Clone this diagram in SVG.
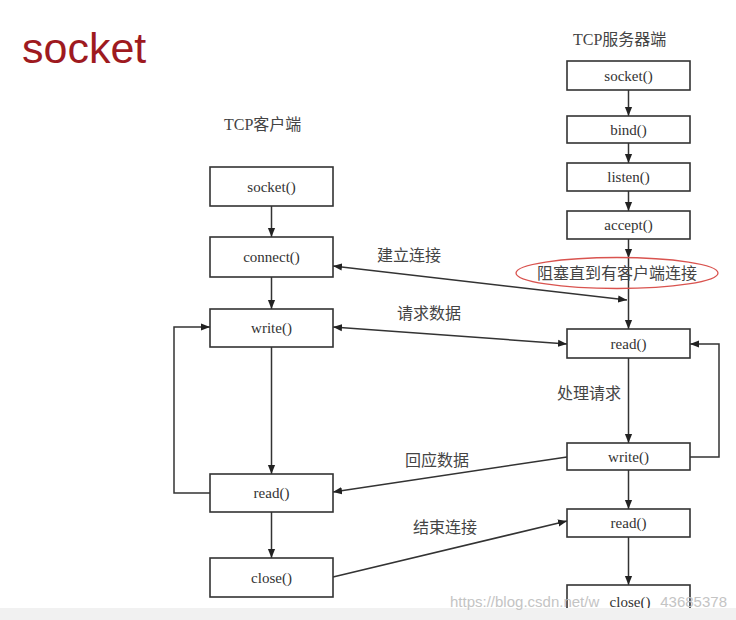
<svg xmlns="http://www.w3.org/2000/svg" width="736" height="620" viewBox="0 0 736 620">
<defs>
<marker id="ah" viewBox="0 0 10 10" refX="10" refY="5" markerWidth="9" markerHeight="9" markerUnits="userSpaceOnUse" orient="auto-start-reverse"><path d="M0,1 L10,5 L0,9 z" fill="#222"/></marker>
<style>
.box{fill:#fff;stroke:#333;stroke-width:1.6}
.bt{font-family:"Liberation Serif","Noto Sans CJK SC",serif;font-size:15px;fill:#333;text-anchor:middle}
.lbl{font-family:"Noto Sans CJK SC","Liberation Sans",sans-serif;font-size:16px;fill:#444}
.hd{font-family:"Liberation Serif","Noto Sans CJK SC",serif;font-size:16px;fill:#444}
.c{fill:none;stroke:#333;stroke-width:1.5}
.a{marker-end:url(#ah)}
.b{marker-start:url(#ah);marker-end:url(#ah)}
.wm{font-family:"Liberation Sans",Arial,sans-serif;font-size:15px;fill:#c4c4c4}
</style>
</defs>
<rect width="736" height="620" fill="#fff"/>
<text x="22" y="63" font-family="Liberation Sans, Arial, sans-serif" font-size="43" fill="#9e1a1f">socket</text>
<text class="hd" x="573" y="45">TCP服务器端</text>
<text class="hd" x="224" y="130">TCP客户端</text>

<g id="connectors">
<line class="c a" x1="271.5" y1="206" x2="271.5" y2="237"/>
<line class="c a" x1="271.5" y1="277" x2="271.5" y2="309"/>
<line class="c a" x1="271.5" y1="347" x2="271.5" y2="474"/>
<line class="c a" x1="271.5" y1="512" x2="271.5" y2="558"/>
<polyline class="c a" points="210,493 174,493 174,327 210,327"/>
<line class="c a" x1="628.5" y1="90" x2="628.5" y2="116"/>
<line class="c a" x1="628.5" y1="143" x2="628.5" y2="163"/>
<line class="c a" x1="628.5" y1="191" x2="628.5" y2="211"/>
<line class="c a" x1="628.5" y1="239" x2="628.5" y2="258"/>
<line class="c a" x1="628.5" y1="258" x2="628.5" y2="329"/>
<line class="c a" x1="628.5" y1="358" x2="628.5" y2="443"/>
<line class="c a" x1="628.5" y1="470" x2="628.5" y2="509"/>
<line class="c a" x1="628.5" y1="537" x2="628.5" y2="585"/>
<polyline class="c a" points="690,457 719,457 719,344 690,344"/>
<line class="c b" x1="333" y1="266" x2="627" y2="300"/>
<line class="c b" x1="333" y1="327" x2="567" y2="344"/>
<line class="c a" x1="567" y1="457" x2="333" y2="492"/>
<line class="c a" x1="333" y1="577" x2="567" y2="521"/>
</g>

<g id="c-socket"><rect class="box" x="210" y="167" width="123" height="39"/><text class="bt" x="271.5" y="192">socket()</text></g>
<g id="c-connect"><rect class="box" x="210" y="237" width="123" height="40"/><text class="bt" x="271.5" y="262">connect()</text></g>
<g id="c-write"><rect class="box" x="210" y="309" width="123" height="38"/><text class="bt" x="271.5" y="333">write()</text></g>
<g id="c-read"><rect class="box" x="210" y="474" width="123" height="38"/><text class="bt" x="271.5" y="498">read()</text></g>
<g id="c-close"><rect class="box" x="210" y="558" width="123" height="39"/><text class="bt" x="271.5" y="583">close()</text></g>

<g id="s-socket"><rect class="box" x="567" y="61" width="123" height="29"/><text class="bt" x="628.5" y="81">socket()</text></g>
<g id="s-bind"><rect class="box" x="567" y="116" width="123" height="27"/><text class="bt" x="628.5" y="135">bind()</text></g>
<g id="s-listen"><rect class="box" x="567" y="163" width="123" height="28"/><text class="bt" x="628.5" y="182">listen()</text></g>
<g id="s-accept"><rect class="box" x="567" y="211" width="123" height="28"/><text class="bt" x="628.5" y="230">accept()</text></g>
<g id="s-read"><rect class="box" x="567" y="329" width="123" height="29"/><text class="bt" x="628.5" y="349">read()</text></g>
<g id="s-write"><rect class="box" x="567" y="443" width="123" height="27"/><text class="bt" x="628.5" y="462">write()</text></g>
<g id="s-read2"><rect class="box" x="567" y="509" width="123" height="28"/><text class="bt" x="628.5" y="528">read()</text></g>
<g id="s-close"><rect class="box" x="567" y="585" width="123" height="30"/><text class="bt" x="630" y="607">close()</text></g>

<g id="block-note">
<ellipse cx="617" cy="273" rx="101" ry="15.5" fill="none" stroke="#d9534f" stroke-width="1.3"/>
<text class="lbl" x="617" y="279" text-anchor="middle" font-size="16.5">阻塞直到有客户端连接</text>
</g>

<g id="labels">
<text class="lbl" x="377" y="261">建立连接</text>
<text class="lbl" x="397" y="319">请求数据</text>
<text class="lbl" x="557" y="399">处理请求</text>
<text class="lbl" x="405" y="466">回应数据</text>
<text class="lbl" x="413" y="533">结束连接</text>
</g>

<rect x="0" y="608" width="736" height="12" fill="#f1f1f1"/>
<text class="wm" x="450" y="607" font-size="14.5">https://blog.csdn.net/w</text>
<text class="wm" x="727" y="607" text-anchor="end" font-size="16">43685378</text>
</svg>
